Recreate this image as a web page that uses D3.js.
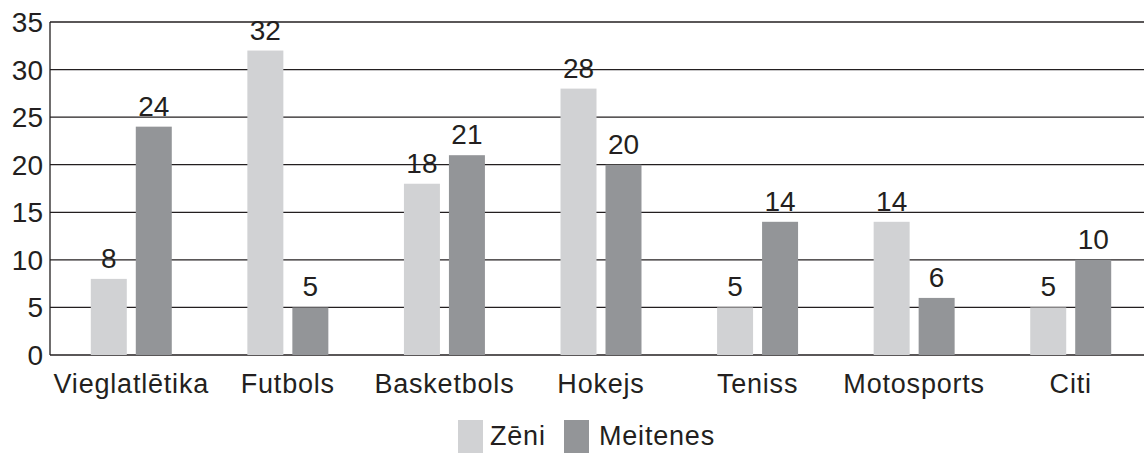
<!DOCTYPE html>
<html><head><meta charset="utf-8">
<script src="https://cdn.jsdelivr.net/npm/d3@7"></script>
<style>body{margin:0;background:#fff}svg{display:block}text{font-family:"Liberation Sans",Arial,sans-serif;fill:#231f20}</style>
</head><body><svg id="c" width="1144" height="454"></svg>
<script>
const categories = ["Vieglatlētika","Futbols","Basketbols","Hokejs","Teniss","Motosports","Citi"];
const seriesNames = ["Zēni","Meitenes"];
const zeni = [8,32,18,28,5,14,5];
const meitenes = [24,5,21,20,14,6,10];
const yTicks = [0,5,10,15,20,25,30,35];
const colors = ["#d1d2d4","#939598"];

const svg = d3.select("#c");
const pLeft = 50, pTop = 22, pBottom = 355;
const x0 = d3.scaleBand().domain(categories).range([53, 1149]).paddingInner(0).paddingOuter(0);
const x1 = d3.scaleBand().domain(seriesNames).range([0, x0.bandwidth()]).paddingInner(0.2).paddingOuter(0.84);
const y = d3.scaleLinear().domain([0,35]).range([pBottom, pTop]);

// gridlines
svg.append("g").selectAll("line").data(yTicks).join("line")
  .attr("x1", pLeft).attr("x2", 1144).attr("y1", d=>y(d)).attr("y2", d=>y(d))
  .attr("stroke","#231f20").attr("stroke-width",1.3);
// y axis line
svg.append("line").attr("x1",pLeft).attr("x2",pLeft).attr("y1",y(35)).attr("y2",y(0)).attr("stroke","#231f20").attr("stroke-width",1.3);
// y tick labels
svg.append("g").selectAll("text").data(yTicks).join("text")
  .attr("x", 43).attr("y", d=>y(d)+10).attr("text-anchor","end")
  .attr("font-size",28).text(d=>d);

const data = categories.map((c,i)=>({c, vals:[{s:seriesNames[0],v:zeni[i]},{s:seriesNames[1],v:meitenes[i]}]}));
const g = svg.append("g").selectAll("g").data(data).join("g").attr("transform", d=>`translate(${x0(d.c)},0)`);
g.selectAll("rect").data(d=>d.vals).join("rect")
  .attr("x", d=>x1(d.s)).attr("width", x1.bandwidth())
  .attr("y", d=>y(d.v)).attr("height", d=>y(0)-y(d.v))
  .attr("fill", (d,i)=>colors[i]);
g.selectAll("text").data(d=>d.vals).join("text")
  .attr("x", d=>x1(d.s)+x1.bandwidth()/2).attr("y", d=>y(d.v)-11)
  .attr("text-anchor","middle").attr("font-size",28).text(d=>d.v);

// category labels
svg.append("g").selectAll("text").data(categories).join("text")
  .attr("x", d=>x0(d)+x0.bandwidth()/2).attr("y", 393)
  .attr("text-anchor","middle").attr("font-size",27).attr("letter-spacing","0.8px").text(d=>d);

// legend
const leg = [{n:"Zēni",x:458,tx:490},{n:"Meitenes",x:564,tx:599}];
const lg = svg.append("g").selectAll("g").data(leg).join("g");
lg.append("rect").attr("x",d=>d.x).attr("y",420).attr("width",25).attr("height",33).attr("fill",(d,i)=>colors[i]);
lg.append("text").attr("x",d=>d.tx).attr("y",445).attr("font-size",27).attr("letter-spacing","0.8px").text(d=>d.n);
</script></body></html>
